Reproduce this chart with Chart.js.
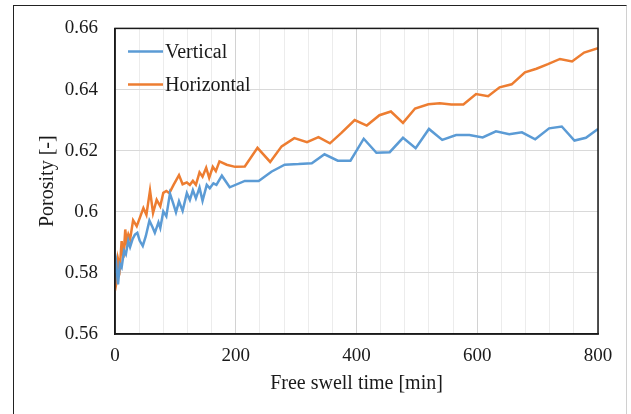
<!DOCTYPE html>
<html>
<head>
<meta charset="utf-8">
<script src="https://cdn.jsdelivr.net/npm/chart.js@4/dist/chart.umd.min.js"></script>
<style>
  html, body { margin: 0; padding: 0; background: #fff; }
  #wrap { position: relative; width: 631px; height: 414px; overflow: hidden; }
  #frame {
    position: absolute; left: 13px; top: 5px; width: 614px; height: 420px;
    border-left: 1.5px solid #222; border-top: 1.5px solid #222; border-right: 1px solid #d0d0d0;
    box-sizing: border-box;
  }
  canvas { position: absolute; left: 0; top: 0; }
</style>
</head>
<body>
<div id="wrap">
  <div id="frame"></div>
  <canvas id="porosityChart" width="631" height="414"></canvas>
</div>
<script>
// Free swell time [min] and porosity [-]
const verticalTimes = [0, 2, 5, 8, 11, 15, 18, 22, 25, 29, 33, 37, 41, 46, 51, 57, 62, 66, 72, 75, 80, 85, 91, 96, 101, 106, 112, 119, 124, 129, 134, 140, 145, 152, 157, 163, 168, 177,
  190, 215, 238, 259, 281, 304, 326, 347, 369, 390, 412, 433, 455, 477, 498, 520, 542, 565, 587, 609, 631, 653, 674, 696, 719, 740, 761, 780, 800];
const verticalPorosity = [0.5800, 0.5829, 0.5762, 0.5829, 0.5818, 0.5872, 0.5861, 0.5905, 0.5885, 0.5910, 0.5925, 0.5931, 0.5905, 0.5888, 0.5920, 0.5971, 0.5950, 0.5931, 0.5965, 0.5947, 0.6001, 0.5985, 0.6060, 0.6030, 0.5998, 0.6034, 0.6003, 0.6061, 0.6039, 0.6071, 0.6044, 0.6079, 0.6036, 0.6088, 0.6077, 0.6093, 0.6088, 0.6118,
  0.6080, 0.6101, 0.6101, 0.6131, 0.6154, 0.6156, 0.6159, 0.6188, 0.6167, 0.6167, 0.6239, 0.6193, 0.6195, 0.6242, 0.6208, 0.6271, 0.6235, 0.6251, 0.6251, 0.6243, 0.6263, 0.6254, 0.6260, 0.6237, 0.6273, 0.6279, 0.6233, 0.6242, 0.6271];

const horizontalTimes = [0, 3, 5, 8, 11, 14, 17, 19, 22, 25, 30, 36, 42, 47, 52, 58, 63, 69, 75, 80, 85, 90, 97, 106, 112, 119, 124, 129, 134, 140, 145, 151, 156, 162, 167, 173,
  185, 199, 215, 236, 257, 276, 297, 318, 337, 356, 375, 397, 417, 438, 457, 477, 497, 519, 538, 557, 577, 598, 618, 637, 657, 679, 698, 717, 737, 757, 777, 800];
const horizontalPorosity = [0.5742, 0.5775, 0.5845, 0.5818, 0.5904, 0.5850, 0.5942, 0.5904, 0.5926, 0.5910, 0.5972, 0.5953, 0.5985, 0.6012, 0.5990, 0.6070, 0.5996, 0.6039, 0.6018, 0.6062, 0.6068, 0.6061, 0.6088, 0.6120, 0.6090, 0.6096, 0.6088, 0.6101, 0.6088, 0.6129, 0.6115, 0.6144, 0.6111, 0.6147, 0.6133, 0.6165,
  0.6154, 0.6147, 0.6148, 0.6209, 0.6163, 0.6214, 0.6241, 0.6228, 0.6244, 0.6224, 0.6258, 0.6300, 0.6282, 0.6316, 0.6328, 0.6291, 0.6338, 0.6352, 0.6355, 0.6351, 0.6351, 0.6385, 0.6378, 0.6407, 0.6417, 0.6456, 0.6468, 0.6483, 0.6500, 0.6492, 0.6521, 0.6535];

const seriesLabels = ['Vertical', 'Horizontal'];
const seriesColors = ['#5B9BD5', '#ED7D31'];

const xTicks = { min: 0, max: 800, step: 40, labelEvery: 200 };
const yTicks = { min: 0.56, max: 0.66, step: 0.02 };

const FONT = "'Liberation Serif', 'Times New Roman', serif";

function toPoints(xs, ys) {
    return xs.map((x, i) => ({ x: x, y: ys[i] }));
}

// plot frame + legend drawn inside the plot area
const framePlugin = {
    id: 'frameAndLegend',
    afterDraw(chart) {
        const { ctx, chartArea: a } = chart;
        ctx.save();
        ctx.strokeStyle = '#1a1a1a';
        ctx.lineWidth = 1.5;
        ctx.strokeRect(a.left, a.top, a.right - a.left, a.bottom - a.top);

        ctx.font = '20px ' + FONT;
        ctx.textBaseline = 'middle';
        ctx.fillStyle = '#1a1a1a';
        chart.data.datasets.forEach((ds, i) => {
            const y = a.top + 23 + i * 33;
            ctx.strokeStyle = ds.borderColor;
            ctx.lineWidth = 2.5;
            ctx.beginPath();
            ctx.moveTo(a.left + 13, y);
            ctx.lineTo(a.left + 48, y);
            ctx.stroke();
            ctx.fillText(ds.label, a.left + 50, y + 1);
        });
        ctx.restore();
    }
};

const ctx = document.getElementById('porosityChart').getContext('2d');
new Chart(ctx, {
    type: 'line',
    data: {
        datasets: [
            {
                label: seriesLabels[0],
                data: toPoints(verticalTimes, verticalPorosity),
                borderColor: seriesColors[0],
                borderWidth: 2.5,
                pointRadius: 0,
                tension: 0,
                fill: false
            },
            {
                label: seriesLabels[1],
                data: toPoints(horizontalTimes, horizontalPorosity),
                borderColor: seriesColors[1],
                borderWidth: 2.5,
                pointRadius: 0,
                tension: 0,
                fill: false
            }
        ]
    },
    options: {
        responsive: false,
        animation: false,
        layout: { padding: { left: 36, right: 33, top: 26, bottom: 18 } },
        plugins: { legend: { display: false }, tooltip: { enabled: false } },
        scales: {
            x: {
                type: 'linear',
                min: xTicks.min,
                max: xTicks.max,
                afterFit: (s) => { s.height = 62; },
                ticks: {
                    stepSize: xTicks.step,
                    autoSkip: false,
                    maxRotation: 0,
                    padding: 11,
                    color: '#1a1a1a',
                    font: { family: FONT, size: 19 },
                    callback: (v) => (v % xTicks.labelEvery === 0 ? v : '')
                },
                grid: {
                    drawTicks: false,
                    lineWidth: 1,
                    color: (c) => (c.tick && c.tick.value % xTicks.labelEvery === 0 ? '#d2d2d2' : '#ececec')
                },
                border: { color: '#1a1a1a', width: 1.5 },
                title: {
                    display: true,
                    text: 'Free swell time [min]',
                    color: '#1a1a1a',
                    font: { family: FONT, size: 20 },
                    padding: { top: 2, bottom: 0 }
                }
            },
            y: {
                min: yTicks.min,
                max: yTicks.max,
                afterFit: (s) => { s.width = 79; },
                ticks: {
                    stepSize: yTicks.step,
                    padding: 17,
                    color: '#1a1a1a',
                    font: { family: FONT, size: 19 },
                    callback: (v) => String(+v.toFixed(2))
                },
                grid: { drawTicks: false, color: '#d9d9d9', lineWidth: 1 },
                border: { color: '#1a1a1a', width: 1.5 },
                title: {
                    display: true,
                    text: 'Porosity [-]',
                    color: '#1a1a1a',
                    font: { family: FONT, size: 20 },
                    padding: { top: 0, bottom: 0 }
                }
            }
        }
    },
    plugins: [framePlugin]
});
</script>
</body>
</html>
